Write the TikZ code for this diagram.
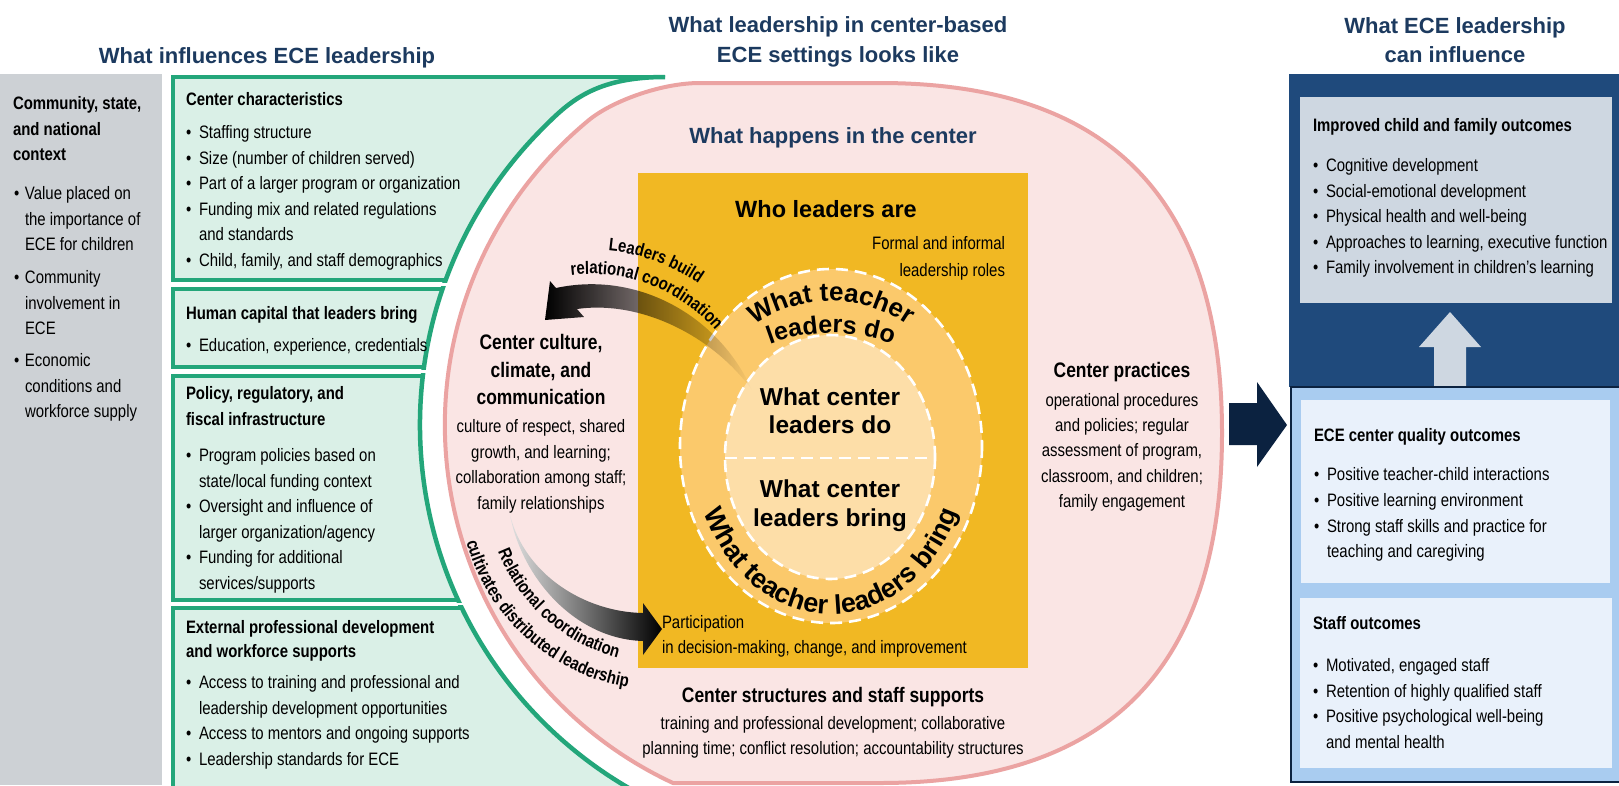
\documentclass[tikz,border=0pt]{standalone}
\usepackage{fontspec}
\setmainfont{Liberation Sans}
\newfontfamily\nar{Liberation Sans}[FakeStretch=0.83]
\usetikzlibrary{decorations.text,fadings}
\definecolor{titlecol}{HTML}{1C3A5F}
\definecolor{greycol}{HTML}{CDD1D5}
\definecolor{greenl}{HTML}{23A67A}
\definecolor{mint}{HTML}{DAF0E7}
\definecolor{pinkf}{HTML}{FAE5E4}
\definecolor{pinkl}{HTML}{EBA3A2}
\definecolor{yel}{HTML}{F1B823}
\definecolor{ring}{HTML}{FBC96B}
\definecolor{inner}{HTML}{FDDEA8}
\definecolor{navyb}{HTML}{1F4A7C}
\definecolor{greyb}{HTML}{CED7E1}
\definecolor{lblue}{HTML}{A9CCF0}
\definecolor{pale}{HTML}{E9F1FB}
\definecolor{darknavy}{HTML}{0B2240}
\tikzfading[name=fadeA, left color=transparent!0, middle color=transparent!40, right color=transparent!100]
\newcommand{\bu}{\makebox[13pt][l]{\textbullet}}
\newcommand{\bi}{\hspace*{13pt}}
\newcommand{\gbu}{\makebox[11pt][l]{\textbullet}}
\newcommand{\gbi}{\hspace*{11pt}}
\newcommand{\mylines}[6]{\foreach \mytext [count=\k from 0] in {#6}{\node[#5] (#1\k) at (#2,{#3+\k*#4}) {\mytext};}}
% green boundary (right edge of the influence boxes)
\newcommand{\gbound}{(665,77) .. controls (595,77) and (569,102) .. (544,127) arc[start angle=225.2, end angle=90, radius=420]}
\newcommand{\gbox}[2]{%
  \begin{scope}
    \clip (0,-10) -- (665,-10) -- \gbound -- (840,900) -- (0,900) -- cycle;
    \fill[mint] (173,#1) rectangle (800,#2);
    \draw[greenl, line width=4.5] (800,#1) -- (173,#1) -- (173,#2) -- (800,#2);
  \end{scope}
  \begin{scope}
    \clip (150,{#1-2.25}) rectangle (700,{#2+2.25});
    \draw[greenl, line width=4.5] \gbound;
  \end{scope}}
\tikzset{
  body/.style={inner sep=0pt, outer sep=0pt, anchor=base west, font=\nar\fontsize{18}{20}\selectfont, text=black},
  bodyb/.style={body, font=\nar\bfseries\fontsize{18}{20}\selectfont},
  bodyc/.style={body, anchor=base},
  headc/.style={inner sep=0pt, anchor=base, font=\nar\bfseries\fontsize{21}{23}\selectfont},
  ttl/.style={inner sep=0pt, anchor=base, font=\bfseries\fontsize{22}{24}\selectfont, text=titlecol},
  big/.style={inner sep=0pt, anchor=base, font=\bfseries\fontsize{24.5}{26}\selectfont},
  dashw/.style={white, line width=2.6, dash pattern=on 12pt off 7pt},
}
\begin{document}
\begin{tikzpicture}[x=1pt,y=-1pt]
\fill[white] (0,0) rectangle (1619,785);
\useasboundingbox (0,0) rectangle (1619,785);

% titles
\node[ttl] (t1) at (267,63) {What influences ECE leadership};
\node[ttl] (t2a) at (838,32) {What leadership in center-based};
\node[ttl] (t2b) at (838,62) {ECE settings looks like};
\node[ttl] (t3a) at (1455,33) {What ECE leadership};
\node[ttl] (t3b) at (1455,62) {can influence};

% grey column
\fill[greycol] (0,74) rectangle (162,785);
\mylines{g}{13}{109.5}{25.6}{bodyb}{{Community, state,},{and national},{context}}
\mylines{ga}{14}{199.5}{25.6}{body}{{\gbu Value placed on},{\gbi the importance of},{\gbi ECE for children}}
\mylines{gb}{14}{283.5}{25.6}{body}{{\gbu Community},{\gbi involvement in},{\gbi ECE}}
\mylines{gc}{14}{366.5}{25.6}{body}{{\gbu Economic},{\gbi conditions and},{\gbi workforce supply}}

% green boxes
\gbox{77}{280}
\gbox{289}{367}
\gbox{376}{600}
\gbox{608}{800}
\node[bodyb] (c1) at (186,105.5) {Center characteristics};
\mylines{c1b}{186}{138.5}{25.6}{body}{{\bu Staffing structure},{\bu Size (number of children served)},{\bu Part of a larger program or organization},{\bu Funding mix and related regulations},{\bi and standards},{\bu Child, family, and staff demographics}}
\node[bodyb] (c2) at (186,319.5) {Human capital that leaders bring};
\node[body] (c2b) at (186,351.5) {\bu Education, experience, credentials};
\mylines{c3}{186}{399.5}{26}{bodyb}{{Policy, regulatory, and},{fiscal infrastructure}}
\mylines{c3b}{186}{461.5}{25.6}{body}{{\bu Program policies based on},{\bi state/local funding context},{\bu Oversight and influence of},{\bi larger organization/agency},{\bu Funding for additional},{\bi services/supports}}
\mylines{c4}{186}{633}{24}{bodyb}{{External professional development},{and workforce supports}}
\mylines{c4b}{186}{688.5}{25.6}{body}{{\bu Access to training and professional and},{\bi leadership development opportunities},{\bu Access to mentors and ongoing supports},{\bu Leadership standards for ECE}}

% pink shape
\filldraw[fill=pinkf, draw=pinkl, line width=4] (700,83) -- (880,83) .. controls (1109,83) and (1222,198) .. (1222,433) .. controls (1222,668) and (1109,783) .. (880,783) -- (673,783) arc[start angle=115, end angle=230.3, radius=395] .. controls (610,102) and (660,83) .. (700,83) -- cycle;

% yellow box and rings
\fill[yel] (638,173) rectangle (1028,668);
\fill[ring] (831,446) ellipse[x radius=151, y radius=177];
\draw[dashw] (831,446) ellipse[x radius=151, y radius=177];
\fill[inner] (830,457) ellipse[x radius=105, y radius=122];
\draw[dashw] (830,457) ellipse[x radius=105, y radius=122];
\draw[dashw] (725,458) -- (935,458);

% texts in center
\node[ttl] (wh) at (833,143) {What happens in the center};
\node[big, font=\bfseries\fontsize{23.5}{25}\selectfont] (who) at (826,217) {Who leaders are};
\mylines{fi}{1005}{249.5}{27}{body, anchor=base east}{{Formal and informal},{leadership roles}}
\node[big] (cd1) at (830,405) {What center};
\node[big] (cd2) at (830,433) {leaders do};
\node[big] (cb1) at (830,497) {What center};
\node[big] (cb2) at (830,526) {leaders bring};
\path[decorate, decoration={text along path, text align=center, text={|\bfseries\fontsize{26}{26}\selectfont|What teacher}}] (831,435) ++(225:134) arc[start angle=225, end angle=315, radius=134];
\path[decorate, decoration={text along path, text align=center, text={|\bfseries\fontsize{25}{25}\selectfont|leaders do}}] (831,507) ++(245:174) arc[start angle=245, end angle=295, radius=174];
\path[decorate, decoration={text along path, text align=center, text={|\bfseries\fontsize{27}{27}\selectfont|What teacher leaders bring}}] (831,446) ++(165:138 and 168) arc[start angle=165, end angle=15, x radius=138, y radius=168];

\mylines{cc}{541}{349.5}{27.5}{headc}{{Center culture,},{climate, and},{communication}}
\mylines{ccb}{541}{432.5}{25.6}{bodyc}{{culture of respect, shared},{growth, and learning;},{collaboration among staff;},{family relationships}}
\node[headc] (cp) at (1122,377.5) {Center practices};
\mylines{cpb}{1122}{406.5}{25.2}{bodyc}{{operational procedures},{and policies; regular},{assessment of program,},{classroom, and children;},{family engagement}}
\mylines{pa}{662}{628.5}{25}{body}{{Participation},{in decision-making, change, and improvement}}
\node[headc] (cs) at (833,702.5) {Center structures and staff supports};
\mylines{csb}{833}{729.5}{25.2}{bodyc}{{training and professional development; collaborative},{planning time; conflict resolution; accountability structures}}

% curved arrows
\fill[black, path fading=fadeA] (752,390) .. controls (720,318) and (640,270) .. (556,288) -- (550,281) -- (545,320) -- (584,317) -- (577,309) .. controls (640,300) and (712,335) .. (752,390) -- cycle;
\shade[left color=black!12, middle color=black!75, right color=black] (510,515) .. controls (525,575) and (585,612) .. (643,613) -- (643,603) -- (662,629) -- (643,655) -- (643,641) .. controls (575,639) and (522,578) .. (510,515) -- cycle;
\path[decorate, decoration={text along path, text align=center, text={|\nar\bfseries\fontsize{18}{18}\selectfont|Leaders build}}] (591,439) ++(272:189) arc[start angle=272, end angle=308, radius=189];
\path[decorate, decoration={text along path, text align=center, text={|\nar\bfseries\fontsize{18}{18}\selectfont|relational coordination}}] (591,439) ++(261:165) arc[start angle=261, end angle=321, radius=165];
\path[decorate, decoration={text along path, text align=center, text={|\nar\bfseries\fontsize{18}{18}\selectfont|Relational coordination}}] (661,488) ++(162:175) arc[start angle=162, end angle=101, radius=175];
\path[decorate, decoration={text along path, text align=center, text={|\nar\bfseries\fontsize{18}{18}\selectfont|cultivates distributed leadership}}] (661,488) ++(170:202) arc[start angle=170, end angle=94, radius=202];

% navy arrow
\fill[darknavy] (1229,403) -- (1257,403) -- (1257,382) -- (1287,425) -- (1257,467) -- (1257,445) -- (1229,445) -- cycle;

% right column
\fill[navyb] (1289,74) rectangle (1625,387);
\fill[greyb] (1300,97) rectangle (1612,303);
\fill[greyb] (1434,390) -- (1434,347) -- (1419,347) -- (1450,312) -- (1481,347) -- (1466,347) -- (1466,390) -- cycle;
\filldraw[fill=lblue, draw=darknavy, line width=1.5] (1291,387) rectangle (1625,782);
\fill[pale] (1301,400) rectangle (1610,583);
\fill[pale] (1300,598) rectangle (1612,768);
\node[bodyb] (io) at (1313,131.5) {Improved child and family outcomes};
\mylines{iob}{1313}{171.5}{25.5}{body}{{\bu Cognitive development},{\bu Social-emotional development},{\bu Physical health and well-being},{\bu Approaches to learning, executive function},{\bu Family involvement in children’s learning}}
\node[bodyb] (ec) at (1314,441.5) {ECE center quality outcomes};
\mylines{ecb}{1314}{480.5}{25.8}{body}{{\bu Positive teacher-child interactions},{\bu Positive learning environment},{\bu Strong staff skills and practice for},{\bi teaching and caregiving}}
\node[bodyb] (so) at (1313,629.5) {Staff outcomes};
\mylines{sob}{1313}{671.5}{25.6}{body}{{\bu Motivated, engaged staff},{\bu Retention of highly qualified staff},{\bu Positive psychological well-being},{\bi and mental health}}
\end{tikzpicture}
\end{document}
